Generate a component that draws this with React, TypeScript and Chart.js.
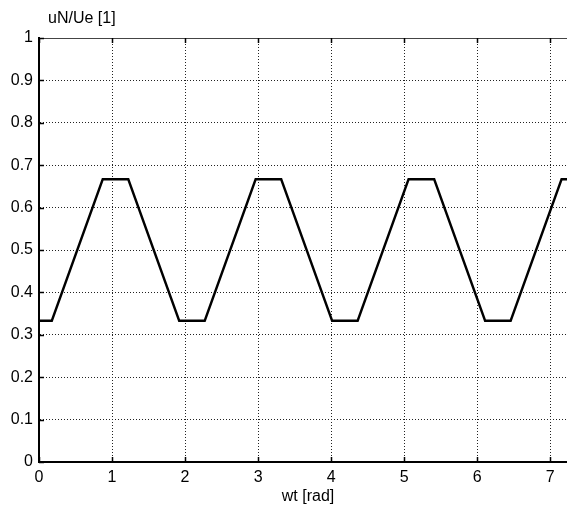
import React, { useEffect, useRef } from "react";
import { Chart, registerables } from "chart.js";

Chart.register(...registerables);

// wt [rad] breakpoints of the trapezoidal waveform
const wtValues = [0, 0.175, 0.873, 1.222, 1.92, 2.269, 2.967, 3.316, 4.014, 4.363, 5.061, 5.411, 6.109, 6.458, 7.156, 7.23];
// uN/Ue [1] values at those breakpoints
const uNValues = [0.333, 0.333, 0.667, 0.667, 0.333, 0.333, 0.667, 0.667, 0.333, 0.333, 0.667, 0.667, 0.333, 0.333, 0.667, 0.667];

const xTicks = [0, 1, 2, 3, 4, 5, 6, 7];
const yTicks = [0, 0.1, 0.2, 0.3, 0.4, 0.5, 0.6, 0.7, 0.8, 0.9, 1];

const xTitle = "wt [rad]";
const yTitle = "uN/Ue [1]";
const FONT = "'Liberation Sans', Arial, Helvetica, sans-serif";

export default function App() {
  const ref = useRef<HTMLCanvasElement | null>(null);

  useEffect(() => {
    if (!ref.current) return;
    const framePlugin = {
      id: "frame",
      afterDraw(chart: any) {
        const { ctx, chartArea } = chart;
        const { left, right, top, bottom } = chartArea;
        const xs = chart.scales.x;
        const ys = chart.scales.y;
        ctx.save();
        // top box line
        ctx.strokeStyle = "#444";
        ctx.lineWidth = 1;
        ctx.beginPath();
        ctx.moveTo(left, top + 0.5);
        ctx.lineTo(right, top + 0.5);
        ctx.stroke();
        // inward ticks
        ctx.strokeStyle = "#000";
        ctx.lineWidth = 1.5;
        const tl = 5;
        xTicks.forEach((v) => {
          const px = Math.round(xs.getPixelForValue(v)) + 0.5;
          ctx.beginPath();
          ctx.moveTo(px, bottom);
          ctx.lineTo(px, bottom - tl);
          ctx.moveTo(px, top);
          ctx.lineTo(px, top + tl);
          ctx.stroke();
        });
        yTicks.forEach((v) => {
          const py = Math.round(ys.getPixelForValue(v)) + 0.5;
          ctx.beginPath();
          ctx.moveTo(left, py);
          ctx.lineTo(left + tl, py);
          ctx.stroke();
        });
        // axis titles
        ctx.fillStyle = "#000";
        ctx.font = `16px ${FONT}`;
        ctx.textAlign = "left";
        ctx.textBaseline = "alphabetic";
        ctx.fillText(yTitle, left + 9, top - 15.5);
        ctx.textAlign = "center";
        ctx.fillText(xTitle, (left + right) / 2 + 5, 501);
        ctx.restore();
      },
    };

    const chart = new Chart(ref.current, {
      type: "line",
      data: {
        datasets: [
          {
            data: wtValues.map((x, i) => ({ x, y: uNValues[i] })),
            borderColor: "#000",
            borderWidth: 2.5,
            pointRadius: 0,
            tension: 0,
            fill: false,
            clip: false as any,
          },
        ],
      },
      options: {
        responsive: false,
        animation: false,
        layout: { padding: { top: 38, right: 0, left: 0, bottom: 0 } },
        plugins: { legend: { display: false }, tooltip: { enabled: false }, title: { display: false } },
        scales: {
          x: {
            type: "linear",
            min: 0,
            max: 7.23,
            afterBuildTicks: (s: any) => {
              s.ticks = xTicks.map((v) => ({ value: v }));
            },
            afterFit: (s: any) => {
              s.height = 46;
            },
            ticks: {
              color: "#000",
              font: { family: FONT, size: 16 },
              padding: 6,
              maxRotation: 0,
              autoSkip: false,
              callback: (v: any) => String(v),
            },
            grid: { color: "#222", lineWidth: 1, drawTicks: false },
            border: { display: true, color: "#000", width: 2, dash: [1, 2] },
            title: { display: false },
          },
          y: {
            type: "linear",
            min: 0,
            max: 1,
            afterBuildTicks: (s: any) => {
              s.ticks = yTicks.map((v) => ({ value: v }));
            },
            afterFit: (s: any) => {
              s.width = 39;
            },
            ticks: {
              color: "#000",
              font: { family: FONT, size: 16 },
              padding: 6,
              autoSkip: false,
              callback: (v: any) => String(v),
            },
            grid: { color: "#222", lineWidth: 1, drawTicks: false },
            border: { display: true, color: "#000", width: 2, dash: [1, 2] },
          },
        },
      },
      plugins: [framePlugin],
    } as any);
    return () => chart.destroy();
  }, []);

  return (
    <div style={{ position: "fixed", left: 0, top: 0, width: 567, height: 508, background: "#fff" }}>
      <canvas ref={ref} width={567} height={508} style={{ display: "block" }} />
    </div>
  );
}
